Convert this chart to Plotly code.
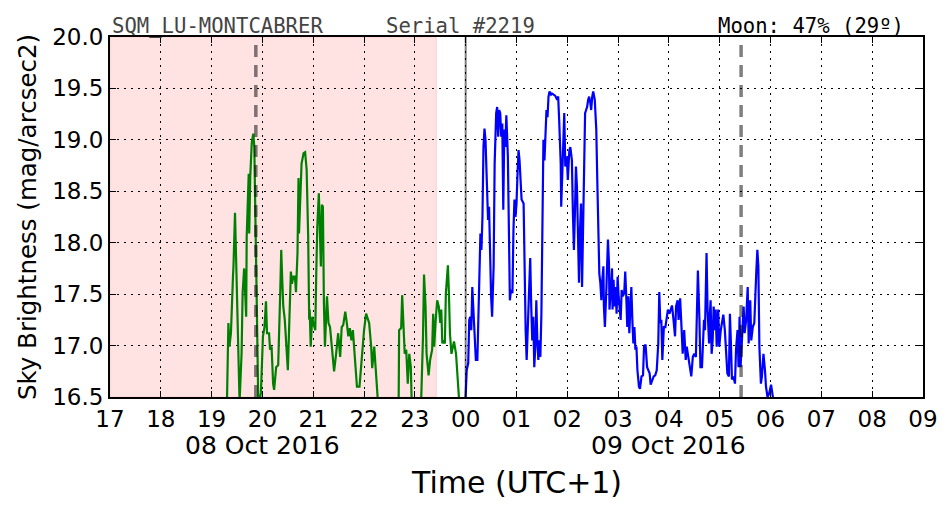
import plotly.graph_objects as go

# ---- data (hours on a continuous clock: 24 = 00h of 09 Oct) ----
green_t = [19.30,19.33,19.35,19.38,19.42,19.43,19.46,19.48,19.51,19.55,19.59,19.61,19.64,19.66,19.68,19.69,19.71,19.73,19.74,19.76,19.79,19.82,19.84,19.86,19.89,19.92,19.97,20.01,20.04,20.07,20.09,20.13,20.15,20.18,20.21,20.23,20.27,20.31,20.35,20.37,20.39,20.41,20.44,20.48,20.50,20.53,20.56,20.58,20.61,20.64,20.66,20.69,20.71,20.72,20.74,20.77,20.81,20.84,20.87,20.90,20.92,20.93,20.95,20.98,21.00,21.04,21.06,21.08,21.11,21.13,21.15,21.17,21.19,21.21,21.23,21.27,21.30,21.33,21.36,21.41,21.45,21.49,21.53,21.56,21.59,21.63,21.66,21.69,21.72,21.75,21.78,21.80,21.83,21.86,21.91,21.94,21.97,22.00,22.04,22.07,22.10,22.14,22.16,22.20,22.22,22.25,22.28,22.48,22.68,22.69,22.73,22.75,22.77,22.80,22.83,22.86,22.89,22.92,22.94,23.03,23.12,23.16,23.18,23.21,23.23,23.27,23.30,23.34,23.36,23.38,23.41,23.44,23.47,23.50,23.52,23.54,23.56,23.59,23.61,23.65,23.67,23.69,23.72,23.75,23.77,23.81,23.83,23.86,23.88]
green_v = [16.40,17.22,16.99,17.12,17.67,17.77,18.29,17.83,17.25,16.45,16.93,17.51,17.75,17.57,17.28,18.06,18.48,18.67,18.09,18.64,18.97,19.06,18.93,18.35,17.25,16.40,16.54,17.09,17.18,17.43,17.12,17.12,16.96,16.99,16.63,16.57,16.79,16.81,17.51,17.93,17.64,17.38,17.25,16.92,16.76,17.25,17.72,17.60,17.67,17.67,17.52,17.90,18.63,18.09,18.45,18.77,18.87,18.88,18.71,18.06,17.25,17.35,16.99,17.28,17.22,17.15,17.73,18.16,18.48,18.06,17.77,18.37,18.35,17.41,16.99,17.48,17.22,17.18,16.99,16.75,16.92,17.12,16.89,17.18,17.20,17.33,17.22,17.09,17.17,17.05,17.15,16.99,16.86,16.60,16.60,16.79,16.92,17.15,17.31,17.25,17.22,16.99,16.78,16.99,16.83,16.70,16.40,16.10,16.40,17.15,17.17,17.49,17.18,16.92,16.96,16.63,16.92,16.79,16.40,16.10,16.40,17.09,17.69,17.38,16.92,16.71,16.86,16.96,17.31,16.99,17.25,17.44,17.38,17.22,17.35,17.02,17.05,17.02,17.51,17.78,17.51,17.12,16.92,16.99,17.04,16.92,16.78,16.60,16.40]

blue_t = [23.99,24.02,24.05,24.07,24.09,24.11,24.13,24.15,24.18,24.20,24.23,24.25,24.27,24.29,24.31,24.33,24.35,24.37,24.39,24.42,24.44,24.46,24.48,24.50,24.52,24.55,24.57,24.60,24.62,24.64,24.66,24.68,24.70,24.72,24.74,24.76,24.78,24.80,24.83,24.85,24.87,24.89,24.92,24.94,24.96,24.98,25.00,25.02,25.04,25.06,25.08,25.10,25.14,25.16,25.18,25.20,25.23,25.25,25.27,25.29,25.31,25.33,25.35,25.37,25.39,25.41,25.43,25.45,25.47,25.49,25.51,25.53,25.55,25.57,25.59,25.61,25.63,25.65,25.68,25.70,25.73,25.76,25.79,25.82,25.84,25.87,25.88,25.90,25.92,25.94,25.96,25.99,26.01,26.04,26.06,26.09,26.11,26.13,26.15,26.17,26.19,26.21,26.23,26.25,26.27,26.29,26.31,26.33,26.35,26.37,26.39,26.41,26.43,26.45,26.47,26.49,26.51,26.54,26.57,26.59,26.61,26.63,26.65,26.67,26.69,26.71,26.72,26.74,26.77,26.80,26.82,26.83,26.86,26.88,26.89,26.91,26.93,26.95,26.97,26.99,27.01,27.03,27.05,27.07,27.09,27.12,27.14,27.16,27.18,27.20,27.22,27.24,27.26,27.28,27.30,27.32,27.34,27.36,27.38,27.41,27.43,27.46,27.49,27.51,27.54,27.57,27.59,27.62,27.64,27.67,27.70,27.73,27.76,27.79,27.81,27.83,27.85,27.87,27.90,27.93,27.95,27.98,28.01,28.06,28.09,28.12,28.14,28.17,28.19,28.22,28.25,28.27,28.30,28.33,28.35,28.38,28.42,28.44,28.47,28.50,28.53,28.55,28.57,28.60,28.62,28.65,28.67,28.69,28.71,28.74,28.76,28.79,28.80,28.82,28.84,28.86,28.88,28.90,28.92,28.94,28.97,28.99,29.02,29.05,29.07,29.10,29.13,29.15,29.18,29.20,29.22,29.24,29.27,29.30,29.32,29.35,29.37,29.39,29.41,29.43,29.45,29.47,29.49,29.52,29.55,29.57,29.58,29.60,29.62,29.65,29.68,29.70,29.72,29.74,29.76,29.78,29.81,29.83,29.86,29.89,29.91,29.94,29.97,30.01,30.03,30.06]
blue_v = [16.40,16.76,16.83,17.25,17.28,17.15,17.57,17.35,16.92,16.86,16.86,17.31,17.70,18.09,17.93,18.25,18.93,19.11,19.00,18.38,18.22,18.35,17.77,17.48,17.28,17.77,18.77,19.26,19.32,19.03,19.29,19.26,19.03,19.16,18.32,19.10,18.93,19.24,18.84,18.29,17.44,17.54,17.51,18.12,18.42,18.25,18.38,18.67,18.90,18.80,18.51,18.42,18.38,17.64,17.15,16.86,17.25,17.64,17.85,17.38,17.05,17.28,16.79,16.99,17.44,17.05,16.86,17.05,16.89,17.31,18.29,19.00,18.80,19.03,19.29,19.22,19.42,19.47,19.44,19.45,19.44,19.43,19.40,19.42,19.19,18.77,18.35,18.74,19.06,19.26,18.74,18.84,18.61,18.90,18.93,18.80,18.29,17.93,18.29,18.74,18.54,18.12,17.61,18.12,18.38,17.57,18.29,18.93,19.26,19.29,19.32,19.39,19.42,19.37,19.29,19.42,19.47,19.39,19.10,18.61,18.12,17.70,17.61,17.44,17.64,17.77,17.38,17.18,17.57,18.03,17.80,17.35,17.57,17.75,17.35,17.64,17.38,17.57,17.31,17.67,17.48,17.31,17.25,17.54,17.48,17.51,17.72,17.48,17.18,17.48,17.12,17.35,17.57,17.25,17.02,17.18,16.96,16.99,16.76,16.60,16.58,16.70,16.71,16.99,17.01,16.79,16.76,16.73,16.62,16.67,16.70,16.71,16.76,17.02,17.52,17.22,17.25,16.86,17.18,17.18,17.25,17.35,17.31,17.39,17.25,17.09,17.38,17.44,17.25,17.46,17.15,16.92,17.15,16.86,16.99,16.89,16.79,16.70,16.89,16.92,16.89,17.25,17.73,17.25,16.79,16.79,16.99,17.25,17.15,17.90,17.35,17.02,17.25,17.44,16.92,17.05,17.38,17.15,17.35,16.99,17.35,16.99,17.15,17.25,17.30,17.15,16.86,16.73,16.70,17.31,17.02,16.67,16.70,16.63,16.96,17.15,16.79,17.28,16.79,16.96,17.18,17.38,17.12,17.25,17.57,17.02,17.25,17.44,17.05,17.18,17.22,17.57,17.73,17.93,17.77,16.99,16.63,16.70,16.92,16.76,16.60,16.50,16.53,16.62,16.52,16.45]

x_ticks = list(range(17, 34))
x_labels = ["17","18","19","20","21","22","23","00","01","02","03","04","05","06","07","08","09"]
y_ticks = [16.5, 17.0, 17.5, 18.0, 18.5, 19.0, 19.5, 20.0]
twilight_end = 23.42     # shaded band 17 -> end
moon_marks = [19.87, 29.42]
midnight = 24.0
date_labels = [(20.0, "08 Oct 2016"), (28.0, "09 Oct 2016")]

FONT = "DejaVu Sans"
MONO = "DejaVu Sans Mono"

fig = go.Figure()
fig.add_trace(go.Scatter(x=green_t, y=green_v, mode="lines",
                         line=dict(color="#008000", width=2.2), hoverinfo="skip"))
fig.add_trace(go.Scatter(x=blue_t, y=blue_v, mode="lines",
                         line=dict(color="#0000ff", width=2.2), hoverinfo="skip"))

# shaded band
fig.add_shape(type="rect", xref="x", yref="paper", x0=17, x1=twilight_end, y0=0, y1=1,
              fillcolor="#ffe3e3", line=dict(color="#ffcccc", width=1), layer="below")
# midnight line
fig.add_shape(type="line", xref="x", yref="paper", x0=midnight, x1=midnight, y0=0, y1=1,
              line=dict(color="rgba(0,0,0,0.5)", width=2), layer="above")
for m in moon_marks:
    fig.add_shape(type="line", xref="x", yref="paper", x0=m, x1=m, y0=0, y1=1,
                  line=dict(color="rgba(0,0,0,0.5)", width=3.5, dash="12px,8px"), layer="above")

annots = []
for xv, txt in date_labels:
    annots.append(dict(x=xv, xref="x", y=-0.136, yref="paper", text=txt, showarrow=False,
                       xanchor="center", yanchor="middle", borderpad=0,
                       font=dict(family=FONT, size=25, color="black")))
annots.append(dict(x=0.5, xref="paper", y=-0.238, yref="paper", text="Time (UTC+1)", showarrow=False,
                   xanchor="center", yanchor="middle", font=dict(family=FONT, size=30, color="black")))
annots.append(dict(x=-0.102, xref="paper", y=0.5, yref="paper", text="Sky Brightness (mag/arcsec2)",
                   showarrow=False, textangle=-90, xanchor="center", yanchor="middle",
                   font=dict(family=FONT, size=24.5, color="black")))
annots.append(dict(x=0.0, xref="paper", y=1.0, yref="paper", text="SQM_LU-MONTCABRER", showarrow=False,
                   xanchor="left", yanchor="bottom", yshift=-3, font=dict(family=MONO, size=20.6, color="#444444")))
annots.append(dict(x=0.337, xref="paper", y=1.0, yref="paper", text="Serial #2219", showarrow=False,
                   xanchor="left", yanchor="bottom", yshift=-3, font=dict(family=MONO, size=20.6, color="#444444")))
annots.append(dict(x=0.979, xref="paper", y=1.0, yref="paper", text="Moon: 47% (29º)", showarrow=False,
                   xanchor="right", yanchor="bottom", yshift=-3, font=dict(family=MONO, size=20.6, color="black")))

fig.update_layout(
    width=952, height=512,
    margin=dict(l=102, r=37, t=29, b=123),
    paper_bgcolor="white", plot_bgcolor="white",
    showlegend=False,
    annotations=annots,
    font=dict(family=FONT, size=23, color="black"),
)
fig.update_xaxes(range=[17, 33], tickmode="array", tickvals=x_ticks, ticktext=x_labels,
                 showgrid=True, gridcolor="black", gridwidth=1, griddash="2px,5px",
                 showline=True, linecolor="black", linewidth=2, mirror="ticks",
                 ticks="inside", ticklen=6, tickwidth=1, tickcolor="black",
                 zeroline=False, tickfont=dict(family=FONT, size=23, color="black"))
fig.update_yaxes(range=[16.5, 20.0], tickmode="array", tickvals=y_ticks,
                 ticktext=[f"{v:.1f}" for v in y_ticks],
                 showgrid=True, gridcolor="black", gridwidth=1, griddash="2px,5px",
                 showline=True, linecolor="black", linewidth=2, mirror="ticks",
                 ticks="inside", ticklen=6, tickwidth=1, tickcolor="black",
                 zeroline=False, tickfont=dict(family=FONT, size=23, color="black"))

fig.write_html("out.html")
